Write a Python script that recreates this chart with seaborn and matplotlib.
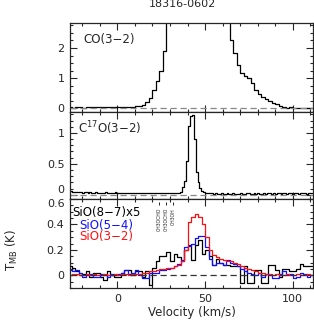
import numpy as np
import matplotlib
matplotlib.use("Agg")
import matplotlib.pyplot as plt
from matplotlib.ticker import MultipleLocator
import seaborn as sns

# ── data (T_MB in K, per channel) ─────────────────────────────────────────────
title = "18316-0602"

# CO(3-2), 2 km/s channels starting at -29 km/s (peak is off the scale)
co_v0, co_dv = -29.0, 2.0
co32 = [0.02, 0.03, 0.02, 0.03, 0.03, 0.02, 0.03, 0.04, 0.03, 0.04,
        0.03, 0.04, 0.05, 0.04, 0.05, 0.06, 0.05, 0.04, 0.03, 0.03,
        0.07, 0.07, 0.10, 0.20, 0.36, 0.62, 0.90, 1.25, 1.90, 3.50,
        4.80, 6.00, 7.20, 8.40, 9.30, 9.90, 10.2, 10.0, 9.50, 8.80,
        8.00, 7.10, 6.20, 5.30, 4.40, 3.60, 2.90, 2.26, 1.85, 1.43,
        1.17, 1.06, 1.00, 0.85, 0.62, 0.47, 0.38, 0.30, 0.24, 0.19,
        0.14, 0.08, 0.04, 0.02, 0.03, 0.02, 0.02, 0.01, 0.02, 0.00, 0.01]

# C17O(3-2), 1.1 km/s channels starting at -27.45 km/s
c17o_v0, c17o_dv = -27.45, 1.1
c17o32 = [0.05, 0.06, 0.04, 0.05, 0.04, 0.05, 0.04, 0.03, 0.04, 0.04,
          0.03, 0.04, 0.03, 0.03, 0.04, 0.03, 0.02, 0.03, 0.03, 0.04,
          0.03, 0.03, 0.02, 0.03, 0.04, 0.03, 0.03, 0.02, 0.03, 0.03,
          0.02, 0.03, 0.03, 0.02, 0.03, 0.02, 0.02, 0.03, 0.02, 0.03,
          0.02, 0.02, 0.03, 0.02, 0.02, 0.03, 0.02, 0.02, 0.02, 0.03,
          0.02, 0.02, 0.03, 0.02, 0.02, 0.03, 0.03, 0.03, 0.04,
          0.12, 0.22, 0.55, 1.12, 1.27, 1.29, 0.90, 0.36, 0.20, 0.11, 0.06, 0.04,
          0.03, 0.02, 0.02, 0.02, 0.01, 0.02, 0.01, 0.01, 0.02, 0.01,
          0.01, 0.02, 0.01, 0.01, 0.02, 0.01, 0.01, 0.01, 0.02, 0.01,
          0.01, 0.02, 0.02, 0.01, 0.01, 0.02, 0.01, 0.02, 0.01, 0.01,
          0.02, 0.01, 0.02, 0.02, 0.01, 0.02, 0.01, 0.02, 0.02, 0.01,
          0.02, 0.02, 0.01, 0.02, 0.02, 0.01, 0.02, 0.02, 0.01, 0.02,
          0.02, 0.02, 0.01, 0.02, 0.02, 0.02]

# SiO lines, 2 km/s channels starting at -29 km/s
sio_v0, sio_dv = -29.0, 2.0
sio87_x5 = [0.05, 0.07, 0.06, 0.03, 0.00, 0.01, 0.03, -0.01, 0.02, 0.02,
            -0.01, -0.04, 0.03, 0.00, -0.01, -0.01, 0.02, 0.04, 0.04, 0.00,
            0.03, 0.03, -0.01, 0.03, -0.08, 0.06, 0.11, 0.15, 0.15, 0.18,
            0.11, 0.17, 0.14, 0.11, 0.20, 0.24, 0.12, 0.24, 0.28, 0.17,
            0.20, 0.15, 0.08, 0.13, 0.10, 0.08, 0.08, 0.07, 0.07, 0.07,
            -0.06, 0.07, -0.06, -0.06, 0.04, 0.04, -0.06, -0.06, 0.08, 0.08,
            0.04, -0.01, 0.05, 0.05, 0.03, 0.03, 0.05, 0.09, 0.07, 0.07, 0.07]
sio54 = [0.02, 0.04, 0.03, 0.04, 0.02, -0.01, 0.00, 0.01, -0.01, -0.01,
         0.01, 0.00, -0.01, 0.01, 0.00, 0.01, 0.02, 0.04, 0.01, 0.02,
         0.04, 0.00, -0.02, -0.02, 0.02, 0.02, 0.02, 0.04, 0.04, 0.05,
         0.06, 0.07, 0.09, 0.12, 0.22, 0.23, 0.25, 0.29, 0.31, 0.31,
         0.22, 0.13, 0.08, 0.10, 0.10, 0.08, 0.12, 0.10, 0.09, 0.07,
         0.05, 0.03, 0.02, 0.01, 0.00, 0.02, -0.01, 0.01, 0.00, -0.02,
         -0.02, 0.01, 0.03, 0.00, 0.01, -0.02, -0.01, 0.02, 0.01, -0.01, 0.00]
sio32 = [0.01, 0.00, 0.01, 0.01, 0.00, 0.00, 0.01, 0.00, 0.01, 0.00,
         0.00, 0.01, 0.00, 0.00, 0.01, 0.00, 0.01, 0.01, 0.00, 0.01,
         0.01, 0.01, 0.02, 0.02, 0.03, 0.03, 0.04, 0.05, 0.05, 0.06,
         0.06, 0.07, 0.08, 0.11, 0.20, 0.42, 0.46, 0.48, 0.46, 0.40,
         0.30, 0.20, 0.16, 0.14, 0.13, 0.12, 0.115, 0.11, 0.10, 0.09,
         0.07, 0.06, 0.05, 0.04, 0.03, 0.02, 0.02, 0.01, 0.01, 0.00,
         0.01, 0.00, 0.00, 0.01, 0.00, 0.00, 0.01, 0.00, 0.00, 0.01, 0.00]

# velocity of the line identification marks in the SiO panel
mark_v = [24.0, 27.8, 31.6]
mark_names = ["CH3OCHO", "CH3OCHO", "CH3OH"]

xlim = (-27, 111.5)


def chan(v0, dv, vals):
    return v0 + dv * np.arange(len(vals))


sns.set_style("ticks")
plt.rcParams["font.family"] = ["DejaVu Sans"]
plt.rcParams["mathtext.fontset"] = "dejavusans"

fig = plt.figure(figsize=(3.14, 3.22), dpi=100)
W = 243 / 314
L = 70 / 314
ax1 = fig.add_axes([L, 1 - 112 / 322, W, 89 / 322])
ax2 = fig.add_axes([L, 1 - 199 / 322, W, 87 / 322])
ax3 = fig.add_axes([L, 1 - 288 / 322, W, 89 / 322])

step = dict(drawstyle="steps-mid", estimator=None, linewidth=0.9)

sns.lineplot(x=chan(co_v0, co_dv, co32), y=co32, ax=ax1, color="black", **step)
sns.lineplot(x=chan(c17o_v0, c17o_dv, c17o32), y=c17o32, ax=ax2, color="black", **step)
sns.lineplot(x=chan(sio_v0, sio_dv, sio87_x5), y=sio87_x5, ax=ax3, color="black", **step)
sns.lineplot(x=chan(sio_v0, sio_dv, sio54), y=sio54, ax=ax3, color="#1010ff", **step)
sns.lineplot(x=chan(sio_v0, sio_dv, sio32), y=sio32, ax=ax3, color="#ff1010", **step)

ax1.set_ylim(-0.12, 2.83)
ax2.set_ylim(-0.07, 1.34)
ax3.set_ylim(-0.1, 0.6)

for ax, dcol in [(ax1, "#888888"), (ax2, "#888888"), (ax3, "#333333")]:
    ax.axhline(0, color=dcol, linestyle=(0, (5, 3)), linewidth=0.9)
    ax.set_xlim(*xlim)
    ax.xaxis.set_major_locator(MultipleLocator(50))
    ax.xaxis.set_minor_locator(MultipleLocator(10))
    ax.tick_params(which="both", direction="in", top=True, right=True,
                   labelsize=8, width=0.8, pad=4)
    ax.tick_params(which="major", length=5)
    ax.tick_params(which="minor", length=2.5)
    for s in ax.spines.values():
        s.set_linewidth(0.9)
    ax.set_xlabel("")
    ax.set_ylabel("")

ax1.yaxis.set_major_locator(MultipleLocator(1))
ax1.yaxis.set_minor_locator(MultipleLocator(0.25))
ax2.yaxis.set_major_locator(MultipleLocator(0.5))
ax2.yaxis.set_minor_locator(MultipleLocator(0.1))
ax3.yaxis.set_major_locator(MultipleLocator(0.2))
ax3.yaxis.set_minor_locator(MultipleLocator(0.05))
ax1.tick_params(labelbottom=False)
ax2.tick_params(labelbottom=False)
ax1.set_yticks([0, 1, 2])
ax2.set_yticks([0, 0.5, 1])
ax2.set_yticklabels(["0", "0.5", "1"])
ax3.set_yticks([0, 0.2, 0.4, 0.6])
ax3.set_yticklabels(["0", "0.2", "0.4", "0.6"])
# the "0" of the middle panel and the "0.6" of the lower one sit at the seam
ax2.get_yticklabels()[0].set_va("bottom")
ax3.get_yticklabels()[-1].set_va("top")

ax1.text(0.053, 0.81, "CO(3\u22122)", transform=ax1.transAxes, fontsize=8.5, va="center")
ax2.text(0.033, 0.816, "C$^{17}$O(3\u22122)", transform=ax2.transAxes, fontsize=8.5, va="center")
ax3.text(0.008, 0.843, "SiO(8\u22127)x5", transform=ax3.transAxes, fontsize=8.5,
         va="center", color="black")
ax3.text(0.04, 0.705, "SiO(5\u22124)", transform=ax3.transAxes, fontsize=8.5,
         va="center", color="#1010ff")
ax3.text(0.04, 0.575, "SiO(3\u22122)", transform=ax3.transAxes, fontsize=8.5,
         va="center", color="#ff1010")

for v, name in zip(mark_v, mark_names):
    ax3.text(v, 0.53, name, fontsize=3.3, rotation=90, ha="center", va="top",
             linespacing=1.0)
ax3.vlines(mark_v, 0.55, 0.575, color="black", linewidth=0.6)

ax3.set_xlabel("Velocity (km/s)", fontsize=8.5, labelpad=2)
fig.text(12 / 314, 1 - 250 / 322, "T$_{\\rm MB}$ (K)", rotation=90,
         fontsize=8.5, ha="center", va="center")
fig.text(182 / 314, 1 - 4 / 322, title, fontsize=8, ha="center", va="center")

fig.savefig("out.png", dpi=100)
